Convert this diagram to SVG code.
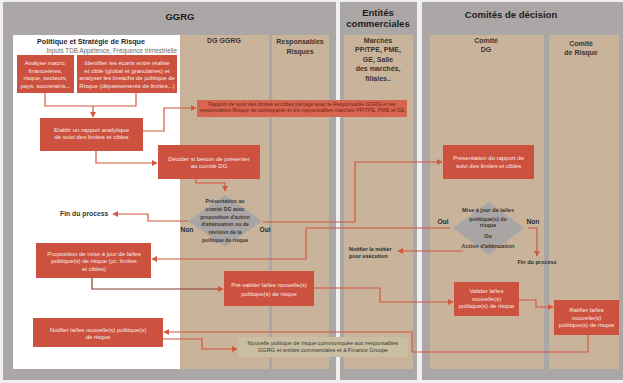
<svg xmlns="http://www.w3.org/2000/svg" width="623" height="383" viewBox="0 0 623 383">
<defs>
<style>
.panel{fill:#aba7a6}
.col{fill:#c9b39b}
.box{fill:#cc523f}
text{font-family:"Liberation Sans",Arial,sans-serif}
.ttl{font-weight:bold;font-size:9.5px;fill:#1c1c1c;text-anchor:middle}
.hd{font-weight:bold;font-size:7px;fill:#3a3430;text-anchor:middle}
.bt{font-size:6px;fill:#fbe8e2;text-anchor:middle}
.dt{font-weight:bold;font-size:5.2px;fill:#3a3632;text-anchor:middle}
.lbl{font-weight:bold;font-size:6.6px;fill:#2e2b29;text-anchor:middle}
.ln{fill:none;stroke:#d4573f;stroke-width:1.2}
.lnd{fill:none;stroke:#8a3a30;stroke-width:1.2}
</style>
<marker id="ar" markerUnits="userSpaceOnUse" markerWidth="6" markerHeight="6" refX="5" refY="3" orient="auto">
<path d="M0,0 L5.5,3 L0,6 z" fill="#d4573f"/>
</marker>
<marker id="ard" markerUnits="userSpaceOnUse" markerWidth="6" markerHeight="6" refX="5" refY="3" orient="auto">
<path d="M0,0 L5.5,3 L0,6 z" fill="#d4573f"/>
</marker>
</defs>
<rect x="0" y="0" width="623" height="383" fill="#f1f0f0"/>

<g id="lanes">
<rect class="panel" x="3" y="2" width="333" height="378"/>
<rect class="panel" x="340" y="2" width="77" height="378"/>
<rect class="panel" x="422" y="2" width="201" height="378"/>
<rect x="13" y="35" width="167" height="334" fill="#ffffff"/>
<rect class="col" x="180" y="35" width="89" height="334"/>
<rect class="col" x="272" y="35" width="57" height="334"/>
<rect class="col" x="344" y="35" width="69" height="334"/>
<rect class="col" x="430" y="35" width="114" height="334"/>
<rect class="col" x="549" y="35" width="70" height="334"/>
<text class="ttl" x="180" y="19.5">GGRG</text>
<text class="ttl" x="378" y="15.5">Entités</text>
<text class="ttl" x="378" y="27.3">commerciales</text>
<text class="ttl" x="511" y="18">Comités de décision</text>
<text class="hd" x="91" y="44" style="font-size:7.2px;fill:#2a2725">Politique et Stratégie de Risque</text>
<text x="177" y="52.5" style="font-size:6.3px;fill:#6d6a6a;text-anchor:end">Inputs TDB Appétence, Fréquence trimestrielle</text>
<text class="hd" x="224" y="43.3">DG GGRG</text>
<text class="hd" x="300" y="43.5">Responsables</text>
<text class="hd" x="300" y="54">Risques</text>
<text class="hd" x="378" y="42.5">Marchés</text>
<text class="hd" x="378" y="52">PP/TPE, PME,</text>
<text class="hd" x="378" y="61.7">GE, Salle</text>
<text class="hd" x="378" y="71.4">des marchés,</text>
<text class="hd" x="378" y="81">filiales..</text>
<text class="hd" x="486" y="42.5">Comité</text>
<text class="hd" x="486" y="52">DG</text>
<text class="hd" x="581" y="45.5">Comité</text>
<text class="hd" x="581" y="54.5">de Risque</text>
</g>

<g id="connectors">
<path class="ln" d="M45,93 V106 H136 V93"/>
<path class="ln" d="M93,106 V117" marker-end="url(#ar)"/>
<path class="ln" d="M143,131 H164 V108 H196" marker-end="url(#ar)"/>
<path class="ln" d="M96,151 V163 H157" marker-end="url(#ar)"/>
<path class="ln" d="M196,179 V183 H225 V191" marker-end="url(#ar)"/>
<path class="ln" d="M188,221 H148 V214 H113" marker-end="url(#ar)"/>
<path class="ln" d="M263,222 H355 V162 H442" marker-end="url(#ar)"/>
<path class="ln" d="M450,228 H306 V259 H152" marker-end="url(#ar)"/>
<path class="ln" d="M463,251 H398" marker-end="url(#ar)"/>
<path class="ln" d="M528,228 H537 V256" marker-end="url(#ar)"/>
<path class="lnd" d="M92,278 V289 H223" marker-end="url(#ard)"/>
<path class="ln" d="M314,288 H380 V302 H453" marker-end="url(#ar)"/>
<path class="ln" d="M519,300 H536 V307 H553" marker-end="url(#ar)"/>
<path class="ln" d="M588,335 V352 H412 V332 H164" marker-end="url(#ar)"/>
<path class="ln" d="M163,339 H202 V349 H237" marker-end="url(#ar)"/>
</g>

<g id="analyse">
<rect class="box" x="17" y="55" width="57" height="38"/>
<text class="bt" x="45.5" y="65">Analyse macro,</text>
<text class="bt" x="45.5" y="72.5">financeières,</text>
<text class="bt" x="45.5" y="80">risque, secteurs,</text>
<text class="bt" x="45.5" y="87.5">pays, souverains...</text>
</g>
<g id="identifier">
<rect class="box" x="77" y="55" width="100" height="38"/>
<text class="bt" x="127" y="65">Identifier les écarts entre réalisé</text>
<text class="bt" x="127" y="72.5">et cible (global et granulaires) et</text>
<text class="bt" x="127" y="80">analyser les breachs de politique de</text>
<text class="bt" x="127" y="87.5">Risque (dépassements de limites...)</text>
</g>
<g id="etablir">
<rect class="box" x="40" y="118" width="103" height="33"/>
<text class="bt" x="91.5" y="132">Etablir un rapport analytique</text>
<text class="bt" x="91.5" y="139">de suivi des limites et cibles</text>
</g>
<g id="rapport">
<rect x="197" y="100" width="210" height="17" fill="#d8654f"/>
<text x="302" y="105.6" style="font-size:5.3px;fill:#6e2418;text-anchor:middle">Rapport de suivi des limites et cibles partagé avec le Responsable GGRG et les</text>
<text x="302" y="112.2" style="font-size:5.3px;fill:#6e2418;text-anchor:middle">responsables Risque de contrepartie et les responsables marchés PP/TPE, PME et GE</text>
</g>
<g id="decider">
<rect class="box" x="158" y="145" width="102" height="34"/>
<text class="bt" x="209" y="160.5">Décider si besoin de présenter</text>
<text class="bt" x="209" y="168.3">au comité DG</text>
</g>
<g id="presentation-dg">
<polygon points="225,195 262,221 225,247 188,221" fill="#a9a5a5"/>
<text class="dt" x="225" y="203">Présentation au</text>
<text class="dt" x="225" y="210.8">comité DG avec</text>
<text class="dt" x="225" y="218.6">proposition d'action</text>
<text class="dt" x="225" y="226.4">d'atténuation ou de</text>
<text class="dt" x="225" y="234.2">révision de la</text>
<text class="dt" x="225" y="242">politique de risque</text>
<text class="lbl" x="187" y="231.5">Non</text>
<text class="lbl" x="265" y="231.5">Oui</text>
</g>
<g id="fin1">
<text x="60" y="216" style="font-weight:bold;font-size:6.8px;fill:#3a3735">Fin du process</text>
</g>
<g id="presentation-rapport">
<rect class="box" x="443" y="145" width="91" height="34"/>
<text class="bt" x="488.5" y="160">Présentation du rapport de</text>
<text class="bt" x="488.5" y="168">suivi des limites et cibles</text>
</g>
<g id="mise-a-jour">
<polygon points="489,202 524,228 489,255 453,228" fill="#a9a5a5"/>
<text class="dt" x="488" y="212" style="font-size:5.5px">Mise à jour de la/les</text>
<text class="dt" x="488" y="220.5" style="font-size:5.5px">politique(s) de</text>
<text class="dt" x="488" y="227" style="font-size:5.5px">risque</text>
<text class="dt" x="488" y="238" style="font-size:5.5px">Ou</text>
<text class="dt" x="488" y="248" style="font-size:5.5px">Action d'atténuation</text>
<text class="lbl" x="443" y="224">Oui</text>
<text class="lbl" x="533" y="224">Non</text>
</g>
<g id="notifier-metier">
<text x="349" y="250.5" style="font-weight:bold;font-size:5.4px;fill:#2e2b29">Notifier le métier</text>
<text x="349" y="258" style="font-weight:bold;font-size:5.4px;fill:#2e2b29">pour exécution</text>
</g>
<g id="fin2">
<text x="537" y="264" style="font-weight:bold;font-size:5.5px;fill:#2e2b29;text-anchor:middle">Fin du process</text>
</g>
<g id="proposition">
<rect class="box" x="36" y="243" width="115" height="35"/>
<text class="bt" x="94" y="255.5">Proposition de mise à jour de la/les</text>
<text class="bt" x="94" y="263">politique(s) de risque (yc. limites</text>
<text class="bt" x="94" y="270.5">et cibles)</text>
</g>
<g id="pre-valider">
<rect class="box" x="224" y="271" width="90" height="35"/>
<text class="bt" x="269" y="287">Pré-valider la/les nouvelle(s)</text>
<text class="bt" x="269" y="295.5">politique(s) de risque</text>
</g>
<g id="valider">
<rect class="box" x="454" y="282" width="65" height="34"/>
<text class="bt" x="486.5" y="293">Valider la/les</text>
<text class="bt" x="486.5" y="300.5">nouvelle(s)</text>
<text class="bt" x="486.5" y="308">politique(s) de risque</text>
</g>
<g id="ratifier">
<rect class="box" x="554" y="300" width="65" height="35"/>
<text class="bt" x="586.5" y="312">Ratifier la/les</text>
<text class="bt" x="586.5" y="319.5">nouvelle(s)</text>
<text class="bt" x="586.5" y="327">politique(s) de risque</text>
</g>
<g id="notifier">
<rect class="box" x="33" y="318" width="130" height="29"/>
<text class="bt" x="98" y="331.5">Notifier la/les nouvelle(s) politique(s)</text>
<text class="bt" x="98" y="339">de risque</text>
</g>
<g id="nouvelle-politique">
<rect x="238" y="337" width="170" height="20" fill="#c9bda2"/>
<text x="323" y="345" style="font-size:5.6px;fill:#3d3a35;text-anchor:middle">Nouvelle politique de risque communiquée aux responsables</text>
<text x="323" y="352.2" style="font-size:5.6px;fill:#3d3a35;text-anchor:middle">GGRG et entités commerciales et à Finance Groupe</text>
</g>
</svg>
